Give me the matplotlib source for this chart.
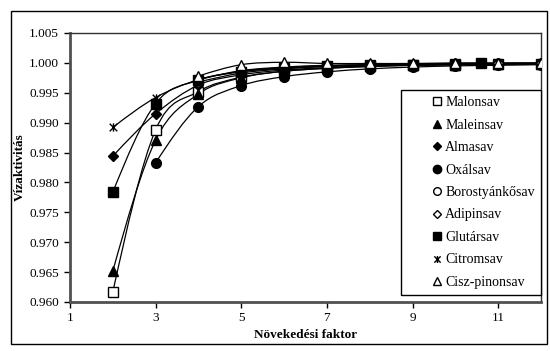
import matplotlib
matplotlib.use("Agg")
import matplotlib.pyplot as plt
from matplotlib.path import Path
from matplotlib.patches import PathPatch, Rectangle
from matplotlib.lines import Line2D
import numpy as np

plt.rcParams['font.family'] = ['Liberation Serif', 'DejaVu Serif']

labels = ["Malonsav", "Maleinsav", "Almasav", "Oxálsav", "Borostyánkősav",
          "Adipinsav", "Glutársav", "Citromsav", "Cisz-pinonsav"]

x_malon = [2, 3, 4, 5, 6, 7, 8, 9, 10, 11, 12]
y_malon = [0.9617, 0.9888, 0.9952, 0.9976, 0.9986, 0.9991, 0.9994, 0.9996, 0.9997, 0.9998, 0.9998]
x_malein = [2, 3, 4, 5, 6, 7, 8, 9, 10, 11, 12]
y_malein = [0.9652, 0.9871, 0.9948, 0.9975, 0.9986, 0.9991, 0.9994, 0.9996, 0.9997, 0.9998, 0.9998]
x_alma = [2, 3, 4, 5, 6, 7, 8, 9, 10, 11, 12]
y_alma = [0.9844, 0.9915, 0.9963, 0.9980, 0.9988, 0.9992, 0.9995, 0.9996, 0.9997, 0.9998, 0.9999]
x_oxal = [3, 4, 5, 6, 7, 8, 9, 10, 11, 12]
y_oxal = [0.9833, 0.9927, 0.9962, 0.9977, 0.9985, 0.9990, 0.9993, 0.9995, 0.9996, 0.9997]
x_boros = [4, 5, 6, 7, 8, 9, 10, 11, 12]
y_boros = [0.9968, 0.9983, 0.9990, 0.9994, 0.9996, 0.9997, 0.9998, 0.9999, 0.9999]
x_adip = [4, 5, 6, 7, 8, 9, 10, 11, 12]
y_adip = [0.9972, 0.9987, 0.9993, 0.9996, 0.9997, 0.9998, 0.9999, 0.9999, 1.0000]
x_glut = [2, 3, 4, 5, 6, 7, 8, 9, 10, 10.6]
y_glut = [0.9784, 0.9932, 0.9971, 0.9985, 0.9991, 0.9994, 0.9996, 0.9997, 0.9998, 0.9999]
x_citrom = [2, 3, 4, 5, 6, 7, 8, 9, 10, 11, 12]
y_citrom = [0.9892, 0.9942, 0.9972, 0.9986, 0.9992, 0.9995, 0.9997, 0.9998, 0.9998, 0.9999, 0.9999]
x_cisz = [4, 5, 6, 7, 8, 9, 10, 11, 12]
y_cisz = [0.9978, 0.9997, 1.0001, 0.9999, 0.9999, 0.9999, 1.0000, 1.0000, 1.0000]

xs = [x_malon, x_malein, x_alma, x_oxal, x_boros, x_adip, x_glut, x_citrom, x_cisz]
ys = [y_malon, y_malein, y_alma, y_oxal, y_boros, y_adip, y_glut, y_citrom, y_cisz]

# Excel-like star marker: an X with a vertical bar through it
star = Path([(-1, -1), (1, 1), (-1, 1), (1, -1), (0, -1.1), (0, 1.1)],
            [Path.MOVETO, Path.LINETO, Path.MOVETO, Path.LINETO, Path.MOVETO, Path.LINETO])

markers = ['s', '^', 'D', 'o', 'o', 'D', 's', star, '^']
filled = [False, True, True, True, False, False, True, True, False]
msizes = [6.5, 7, 5.5, 7, 6.5, 5.5, 7, 6, 7]

xticks = [1, 3, 5, 7, 9, 11]
yticks = [0.960, 0.965, 0.970, 0.975, 0.980, 0.985, 0.990, 0.995, 1.000, 1.005]

fig = plt.figure(figsize=(5.5, 3.51), dpi=100)
ax = fig.add_axes([70/550, 1-302/351, (541-70)/550, (302-33)/351])

def smooth_path(x, y, t=1/6):
    x = np.asarray(x, float); y = np.asarray(y, float)
    n = len(x)
    verts = [(x[0], y[0])]
    codes = [Path.MOVETO]
    for i in range(n - 1):
        p0 = np.array([x[max(i-1, 0)], y[max(i-1, 0)]])
        p1 = np.array([x[i], y[i]])
        p2 = np.array([x[i+1], y[i+1]])
        p3 = np.array([x[min(i+2, n-1)], y[min(i+2, n-1)]])
        c1 = p1 + (p2 - p0) * t
        c2 = p2 - (p3 - p1) * t
        if i == 0 and n > 2:
            c1 = (p1 + c2) / 2
        if i == n - 2 and n > 2:
            c2 = (p2 + c1) / 2
        verts += [tuple(c1), tuple(c2), tuple(p2)]
        codes += [Path.CURVE4] * 3
    return Path(verts, codes)

handles = []
for x, y, m, f, ms, lab in zip(xs, ys, markers, filled, msizes, labels):
    ax.add_patch(PathPatch(smooth_path(x, y), facecolor='none', edgecolor='black', lw=0.9, zorder=2))
    fc = 'black' if f else 'white'
    ax.plot(x, y, linestyle='none', marker=m, markersize=ms, markerfacecolor=fc,
            markeredgecolor='black', markeredgewidth=1.0, zorder=3)
    handles.append(Line2D([], [], linestyle='none', marker=m, markersize=ms - 1.0,
                          markerfacecolor=fc, markeredgecolor='black',
                          markeredgewidth=1.0, label=lab))

ax.set_xlim(1, 12)
ax.set_ylim(0.960, 1.005)
ax.set_xticks(xticks)
ax.set_yticks(yticks)
ax.set_yticklabels([f"{v:.3f}" for v in yticks])
ax.tick_params(axis='both', direction='out', length=4, width=1, labelsize=9.5, colors='black')
ax.tick_params(axis='x', pad=3)
ax.tick_params(axis='y', pad=4)
for s in ['left', 'bottom']:
    ax.spines[s].set_linewidth(2)
    ax.spines[s].set_color('#505050')
for s in ['top', 'right']:
    ax.spines[s].set_linewidth(1)
    ax.spines[s].set_color('#303030')

ax.set_xlabel("Növekedési faktor", fontsize=9.5, fontweight='bold', labelpad=4)
ax.set_ylabel("Vízaktivitás", fontsize=9.5, fontweight='bold', labelpad=2)

leg = ax.legend(handles=handles, loc='upper right', bbox_to_anchor=(1.0, (302-90)/269),
                frameon=True, fancybox=False, shadow=False, fontsize=10,
                borderpad=0.45, labelspacing=0.68, handlelength=4.2, handletextpad=-1.5,
                borderaxespad=0.0)
leg.get_frame().set_edgecolor('black')
leg.get_frame().set_linewidth(1.0)
leg.get_frame().set_alpha(1)

fig.patches.append(Rectangle((10.5/550, 1-344/351), (547-10.5)/550, (344-11)/351,
                             transform=fig.transFigure, fill=False, edgecolor='black', lw=1))

fig.savefig("out.png", dpi=100)
